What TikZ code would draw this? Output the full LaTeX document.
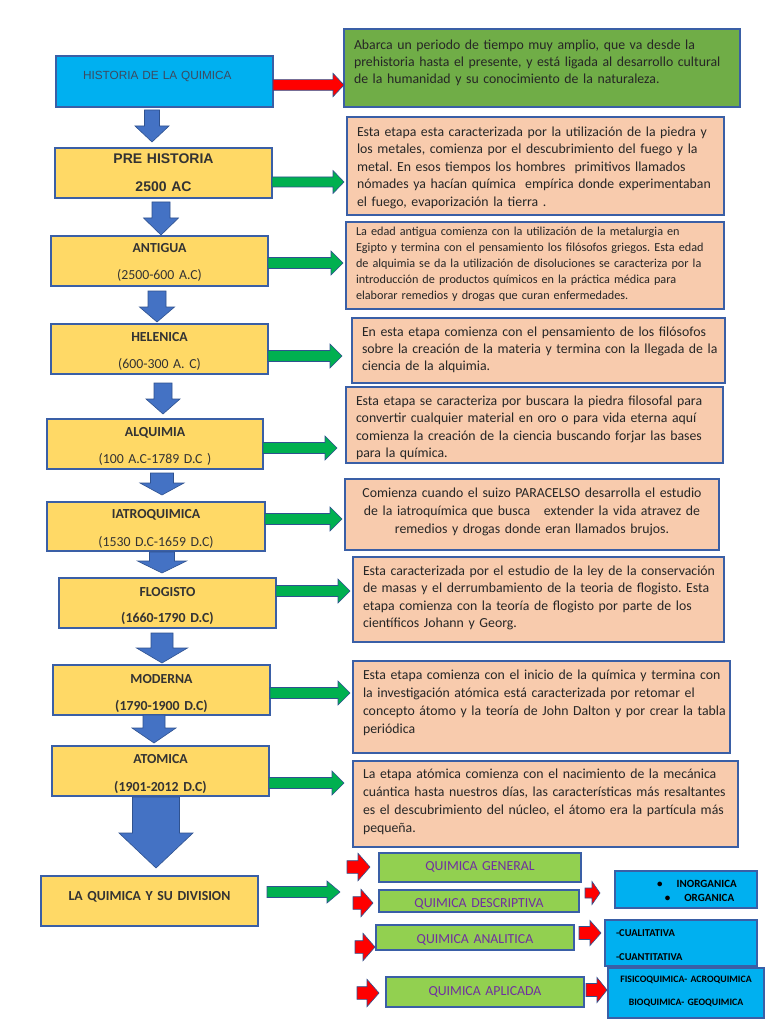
\documentclass[tikz,border=0pt]{standalone}
\usepackage{fontspec}
\setmainfont{Carlito}
\newfontfamily\arialf{Liberation Sans}
\definecolor{bord}{HTML}{3A5FA6}
\definecolor{arrbord}{HTML}{2F528F}
\definecolor{skyb}{HTML}{00B0F0}
\definecolor{yel}{HTML}{FFD966}
\definecolor{peach}{HTML}{F8CBAD}
\definecolor{leaf}{HTML}{70AD47}
\definecolor{lime}{HTML}{92D050}
\definecolor{blarr}{HTML}{4472C4}
\definecolor{grarr}{HTML}{00B050}
\definecolor{purp}{HTML}{7030A0}
\definecolor{dtxt}{HTML}{262626}
\definecolor{gtxt}{HTML}{333333}
\definecolor{titl}{HTML}{3C4A60}
\newcommand\harr[7]{\draw[#7] (#1,#3-#4) -- (#2-#6,#3-#4) -- (#2-#6,#3-#5) -- (#2,#3) -- (#2-#6,#3+#5) -- (#2-#6,#3+#4) -- (#1,#3+#4) -- cycle;}
\newcommand\varr[7]{\draw[#7] (#1-#4,#2) -- (#1-#4,#3-#6) -- (#1-#5,#3-#6) -- (#1,#3) -- (#1+#5,#3-#6) -- (#1+#4,#3-#6) -- (#1+#4,#2) -- cycle;}
\newcommand\li[1]{\mbox{#1}}
\frenchspacing
\begin{document}
\frenchspacing
\begin{tikzpicture}[x=1pt,y=-1pt,
  anybox/.style={draw=bord, line width=1.2pt, rectangle, inner ysep=0pt, outer sep=0pt, anchor=north west},
  dbox/.style={anybox, fill=peach, inner xsep=10pt, align=left, text=dtxt, font=\fontsize{13.8}{17.5}\selectfont},
  lbox/.style={anybox, fill=yel, inner xsep=0pt, align=center, text=gtxt},
  sbox/.style={anybox, fill=lime, inner xsep=0pt, align=center, text=purp, font=\fontsize{13.8}{16}\selectfont},
  cbox/.style={anybox, fill=skyb, inner xsep=0pt, align=center, text=black},
  redarr/.style={fill=red, draw=arrbord, line width=0.6pt},
  grnarr/.style={fill=grarr, draw=arrbord, line width=0.6pt},
  bluarr/.style={fill=blarr, draw=arrbord, line width=0.6pt},
  lf/.style={font=\fontsize{13.8}{#1}\selectfont},
  lfb/.style={font=\bfseries\fontsize{13.8}{#1}\selectfont}
]
\useasboundingbox (0,0) rectangle (768,1024);
\fill[white] (0,0) rectangle (768,1024);

% ---------- left column ----------
\node[anybox, fill=skyb, align=left, inner xsep=27pt, text width=163pt, text height=23.5pt, text depth=27.5pt, text=titl, font=\arialf\fontsize{11.8}{14}\selectfont] (b0) at (56,56) {HISTORIA DE LA QUIMICA};
\node[lbox, text width=217pt, text height=15.5pt, text depth=34.5pt, font=\arialf\bfseries\fontsize{14}{28}\selectfont] (b1) at (55,148) {PRE HISTORIA\\2500 AC};
\node[lbox, lf=27, text width=217pt, text height=16.5pt, text depth=33.5pt] (b2) at (51,236) {{\bfseries ANTIGUA}\\(2500-600 A.C)};
\node[lbox, lf=27, text width=217pt, text height=17.5pt, text depth=32.5pt] (b3) at (51,324) {{\bfseries HELENICA}\\(600-300 A. C)};
\node[lbox, lf=27, text width=216pt, text height=17.5pt, text depth=32.5pt] (b4) at (47,419) {{\bfseries ALQUIMIA}\\(100 A.C-1789 D.C )};
\node[lbox, lf=28, text width=218pt, text height=16.5pt, text depth=32.5pt] (b5) at (47,502) {{\bfseries IATROQUIMICA}\\(1530 D.C-1659 D.C)};
\node[lbox, lfb=26, text width=217pt, text height=18.5pt, text depth=31.5pt] (b6) at (59,578) {FLOGISTO\\(1660-1790 D.C)};
\node[lbox, lfb=27, text width=217pt, text height=18.5pt, text depth=31.5pt] (b7) at (53,665) {MODERNA\\(1790-1900 D.C)};
\node[lbox, lfb=28, text width=217pt, text height=17.5pt, text depth=32.5pt] (b8) at (52,746) {ATOMICA\\(1901-2012 D.C)};
\node[lbox, lfb=16, text width=217pt, text height=24.5pt, text depth=25.5pt] (b9) at (41,876) {LA QUIMICA Y SU DIVISION};

% ---------- right descriptions ----------
\node[dbox, fill=leaf, text width=376pt, text height=20.5pt, text depth=57.5pt, font=\fontsize{13.8}{17}\selectfont] (d0) at (344,29)
 {\li{Abarca un periodo de tiempo muy amplio, que va desde la}\\\li{prehistoria hasta el presente, y está ligada al desarrollo cultural}\\\li{de la humanidad y su conocimiento de la naturaleza.}};
\node[dbox, text width=357pt, text height=19.5pt, text depth=78.5pt] (d1) at (347,117)
 {\li{Esta etapa esta caracterizada por la utilización de la piedra y}\\\li{los metales, comienza por el descubrimiento del fuego y la}\\\li{metal. En esos tiempos los hombres~ primitivos llamados}\\\li{nómades ya hacían química~ empírica donde experimentaban}\\\li{el fuego, evaporización la tierra .}};
\node[dbox, text width=358pt, text height=14pt, text depth=73pt, font=\fontsize{12.2}{15.8}\selectfont] (d2) at (346,222)
 {\li{La edad antigua comienza con la utilización de la metalurgia en}\\\li{Egipto y termina con el pensamiento los filósofos griegos. Esta edad}\\\li{de alquimia se da la utilización de disoluciones se caracteriza por la}\\\li{introducción de productos químicos en la práctica médica para}\\\li{elaborar remedios y drogas que curan enfermedades.}};
\node[dbox, text width=353pt, text height=18.5pt, text depth=46.5pt, font=\fontsize{13.8}{17}\selectfont] (d3) at (352,318)
 {\li{En esta etapa comienza con el pensamiento de los filósofos}\\\li{sobre la creación de la materia y termina con la llegada de la}\\\li{ciencia de la alquimia.}};
\node[dbox, text width=357pt, text height=18.5pt, text depth=57.5pt, font=\fontsize{13.8}{17.3}\selectfont] (d4) at (346,387)
 {\li{Esta etapa se caracteriza por buscara la piedra filosofal para}\\\li{convertir cualquier material en oro o para vida eterna aquí}\\\li{comienza la creación de la ciencia buscando forjar las bases}\\\li{para la química.}};
\node[dbox, align=center, text width=354pt, text height=18.5pt, text depth=52.5pt, font=\fontsize{13.8}{18}\selectfont] (d5) at (345,479)
 {\li{Comienza cuando el suizo PARACELSO desarrolla el estudio}\\\li{de la iatroquímica que busca~~ extender la vida atravez de}\\\li{remedios y drogas donde eran llamados brujos.}};
\node[dbox, text width=351pt, text height=18.5pt, text depth=66.5pt, font=\fontsize{13.8}{17.3}\selectfont] (d6) at (353,557)
 {\li{Esta caracterizada por el estudio de la ley de la conservación}\\\li{de masas y el derrumbamiento de la teoria de flogisto. Esta}\\\li{etapa comienza con la teoría de flogisto por parte de los}\\\li{científicos Johann y Georg.}};
\node[dbox, text width=357pt, text height=18.5pt, text depth=73.5pt, font=\fontsize{13.8}{18}\selectfont] (d7) at (353,661)
 {\li{Esta etapa comienza con el inicio de la química y termina con}\\\li{la investigación atómica está caracterizada por retomar el}\\\li{concepto átomo y la teoría de John Dalton y por crear la tabla}\\\li{periódica}};
\node[dbox, text width=365pt, text height=17.5pt, text depth=68.5pt, font=\fontsize{13.8}{18}\selectfont] (d8) at (353,761)
 {\li{La etapa atómica comienza con el nacimiento de la mecánica}\\\li{cuántica hasta nuestros días, las características más resaltantes}\\\li{es el descubrimiento del núcleo, el átomo era la partícula más}\\\li{pequeña.}};

% ---------- divisions ----------
\node[sbox, text width=202pt, text height=17.5pt, text depth=11.5pt] (s1) at (379,853) {QUIMICA GENERAL};
\node[sbox, text width=200pt, text height=17.5pt, text depth=4.5pt] (s2) at (379,890) {QUIMICA DESCRIPTIVA};
\node[sbox, text width=198pt, text height=18.5pt, text depth=6.5pt] (s3) at (376,925) {QUIMICA ANALITICA};
\node[sbox, text width=198pt, text height=18.5pt, text depth=11.5pt] (s4) at (386,977) {QUIMICA APLICADA};

\node[cbox, text width=142pt, text height=16.5pt, text depth=20.5pt, font=\bfseries\fontsize{11}{14}\selectfont] (c1) at (615,871)
 {\hspace*{22pt}\textbullet\hspace{14pt}INORGANICA\\\hspace*{27pt}\textbullet\hspace{14pt}ORGANICA};
\node[cbox, align=left, inner xsep=11pt, text width=130pt, text height=16pt, text depth=30pt, font=\bfseries\fontsize{10.5}{24}\selectfont] (c2) at (605,920)
 {-CUALITATIVA\\-CUANTITATIVA};
\node[cbox, text width=156pt, text height=14.5pt, text depth=35.5pt, font=\bfseries\fontsize{9.8}{23}\selectfont] (c3) at (608,968)
 {FISICOQUIMICA- ACROQUIMICA\\BIOQUIMICA- GEOQUIMICA};

% ---------- horizontal block arrows ----------
\harr{273}{344}{85}{5.3}{11.7}{11}{redarr}
\harr{272}{344}{182}{5}{11.5}{11}{grnarr}
\harr{268}{343}{263}{5.5}{12}{12}{grnarr}
\harr{268}{342}{356}{5.5}{12}{12}{grnarr}
\harr{263}{337}{448}{5.5}{12}{12}{grnarr}
\harr{265}{342}{519}{5.5}{12}{12}{grnarr}
\harr{276}{350}{591}{5.5}{12}{12}{grnarr}
\harr{270}{350}{693}{5.5}{12}{12}{grnarr}
\harr{269}{344}{783}{5.5}{12}{12}{grnarr}
\harr{267}{340}{892}{5.5}{11}{13}{grnarr}

\harr{347}{370}{867}{6.3}{13.7}{12}{redarr}
\harr{353}{373}{903}{6.3}{13.7}{12}{redarr}
\harr{355}{375}{947}{6.3}{13.7}{12}{redarr}
\harr{357}{379}{993}{6.3}{13.7}{12}{redarr}
\harr{585}{600}{893}{5}{11.5}{8}{redarr}
\harr{579}{601}{933}{6.5}{12.5}{11}{redarr}
\harr{586}{607}{990}{6.5}{12.5}{10}{redarr}

% ---------- vertical block arrows ----------
\varr{152}{110}{142}{7.5}{17}{16}{bluarr}
\varr{161}{202}{235}{9}{17.5}{17}{bluarr}
\varr{157}{291}{322}{9}{17.5}{15}{bluarr}
\varr{163}{383}{414}{9}{17}{15}{bluarr}
\varr{162}{473}{495}{11.5}{22}{12}{bluarr}
\varr{162}{552}{573}{12.5}{24.5}{12}{bluarr}
\varr{162}{633}{663}{11}{25.5}{15}{bluarr}
\varr{154}{715}{743}{11}{22}{15}{bluarr}
\varr{156}{797}{868}{23.5}{37}{35}{bluarr}
\end{tikzpicture}
\end{document}
